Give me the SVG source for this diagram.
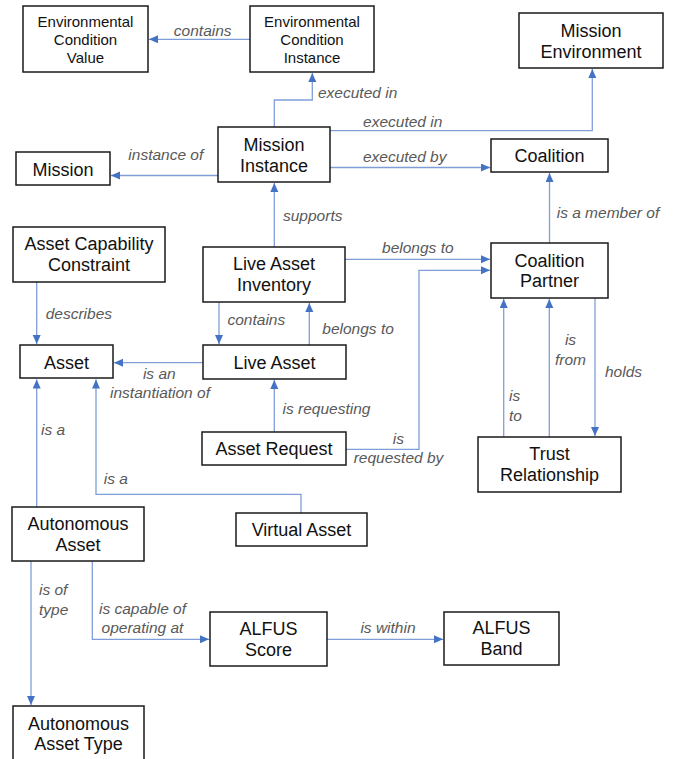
<svg xmlns="http://www.w3.org/2000/svg" width="686" height="759" viewBox="0 0 686 759">
<defs>
<style>
.box{fill:#fff;stroke:#1a1a1a;stroke-width:1.5}
.nt{font-family:"Liberation Sans",Arial,sans-serif;font-size:18px;fill:#111;text-anchor:middle}
.ns{font-size:15px}
.lk{fill:none;stroke:#7f9ed8;stroke-width:1.3}
.lb{font-family:"Liberation Sans",Arial,sans-serif;font-size:15.5px;font-style:italic;fill:#595959}
.m{text-anchor:middle}
</style>
<marker id="ah" markerUnits="userSpaceOnUse" markerWidth="10" markerHeight="9" refX="9" refY="4" orient="auto">
<path d="M0,0 L9,4 L0,8 Z" fill="#4472c4"/>
</marker>
</defs>
<rect width="686" height="759" fill="#fff"/>

<g id="connectors">
<path class="lk" d="M250,39.3 H149" marker-end="url(#ah)"/>
<path class="lk" d="M274.3,127 V100 H312.3 V73" marker-end="url(#ah)"/>
<path class="lk" d="M330,130.7 H592.3 V69" marker-end="url(#ah)"/>
<path class="lk" d="M330,167.5 H490" marker-end="url(#ah)"/>
<path class="lk" d="M218,175.5 H111" marker-end="url(#ah)"/>
<path class="lk" d="M274.3,247 V183" marker-end="url(#ah)"/>
<path class="lk" d="M549.5,243 V173" marker-end="url(#ah)"/>
<path class="lk" d="M345,259.3 H490" marker-end="url(#ah)"/>
<path class="lk" d="M346,449.3 H419 V270.3 H490" marker-end="url(#ah)"/>
<path class="lk" d="M503.7,437 V299" marker-end="url(#ah)"/>
<path class="lk" d="M549.3,437 V299" marker-end="url(#ah)"/>
<path class="lk" d="M595,298 V436" marker-end="url(#ah)"/>
<path class="lk" d="M219,302 V344" marker-end="url(#ah)"/>
<path class="lk" d="M309.3,345 V303" marker-end="url(#ah)"/>
<path class="lk" d="M36.7,282 V344" marker-end="url(#ah)"/>
<path class="lk" d="M203,362.7 H114" marker-end="url(#ah)"/>
<path class="lk" d="M274.3,432 V380" marker-end="url(#ah)"/>
<path class="lk" d="M36.7,507 V379.5" marker-end="url(#ah)"/>
<path class="lk" d="M301,513 V494.3 H96 V379.5" marker-end="url(#ah)"/>
<path class="lk" d="M31,561 V705" marker-end="url(#ah)"/>
<path class="lk" d="M92.3,561 V639.3 H209" marker-end="url(#ah)"/>
<path class="lk" d="M327,639.3 H443" marker-end="url(#ah)"/>

<text class="lb m" x="202.7" y="36.3">contains</text>
<text class="lb" x="318" y="97.5">executed in</text>
<text class="lb m" x="402.7" y="127">executed in</text>
<text class="lb m" x="404.7" y="162">executed by</text>
<text class="lb m" x="165.8" y="160.3">instance of</text>
<text class="lb" x="283" y="221.3">supports</text>
<text class="lb" x="556.7" y="218">is a member of</text>
<text class="lb m" x="417.8" y="253">belongs to</text>
<text class="lb m" x="398.3" y="443.6">is</text>
<text class="lb m" x="398.5" y="463">requested by</text>
<text class="lb" x="509" y="401.3">is</text>
<text class="lb" x="509" y="421.3">to</text>
<text class="lb m" x="570.5" y="345.3">is</text>
<text class="lb m" x="570.5" y="364.6">from</text>
<text class="lb" x="605" y="377">holds</text>
<text class="lb" x="227.5" y="324.6">contains</text>
<text class="lb" x="322.3" y="333.6">belongs to</text>
<text class="lb" x="45.7" y="319.3">describes</text>
<text class="lb m" x="159.3" y="378.6">is an</text>
<text class="lb m" x="160" y="397.6">instantiation of</text>
<text class="lb" x="282.5" y="414.3">is requesting</text>
<text class="lb" x="41" y="434.6">is a</text>
<text class="lb" x="103.7" y="484">is a</text>
<text class="lb" x="39" y="594.6">is of</text>
<text class="lb" x="39" y="614.6">type</text>
<text class="lb m" x="142.5" y="614">is capable of</text>
<text class="lb m" x="142.5" y="633">operating at</text>
<text class="lb m" x="388" y="633">is within</text>
</g>

<g id="ecv"><rect class="box" x="23" y="6" width="125" height="66"/>
<text class="nt ns" x="85.5" y="27">Environmental</text><text class="nt ns" x="85.5" y="44.5">Condition</text><text class="nt ns" x="85.5" y="62.5">Value</text></g>
<g id="eci"><rect class="box" x="250" y="6" width="124" height="66"/>
<text class="nt ns" x="312" y="27">Environmental</text><text class="nt ns" x="312" y="45">Condition</text><text class="nt ns" x="312" y="63">Instance</text></g>
<g id="me"><rect class="box" x="519" y="13" width="144" height="55"/>
<text class="nt" x="591" y="37">Mission</text><text class="nt" x="591" y="58">Environment</text></g>
<g id="mi"><rect class="box" x="218" y="127" width="112" height="55"/>
<text class="nt" x="274" y="150.5">Mission</text><text class="nt" x="274" y="171.5">Instance</text></g>
<g id="mission"><rect class="box" x="16" y="152" width="94" height="33"/>
<text class="nt" x="63" y="176">Mission</text></g>
<g id="coalition"><rect class="box" x="491" y="139" width="117" height="33"/>
<text class="nt" x="549.5" y="162">Coalition</text></g>
<g id="cp"><rect class="box" x="491" y="243" width="117" height="55"/>
<text class="nt" x="549.5" y="266.5">Coalition</text><text class="nt" x="549.5" y="287">Partner</text></g>
<g id="acc"><rect class="box" x="13" y="227" width="152" height="55"/>
<text class="nt" x="89" y="249.5">Asset Capability</text><text class="nt" x="89" y="271">Constraint</text></g>
<g id="lai"><rect class="box" x="203" y="247" width="142" height="55"/>
<text class="nt" x="274" y="269.5">Live Asset</text><text class="nt" x="274" y="291">Inventory</text></g>
<g id="asset"><rect class="box" x="20" y="345" width="93" height="33"/>
<text class="nt" x="66.5" y="369">Asset</text></g>
<g id="la"><rect class="box" x="203" y="345" width="143" height="34"/>
<text class="nt" x="274.5" y="369">Live Asset</text></g>
<g id="ar"><rect class="box" x="202" y="432" width="144" height="33"/>
<text class="nt" x="274" y="455">Asset Request</text></g>
<g id="tr"><rect class="box" x="478" y="437" width="143" height="55"/>
<text class="nt" x="549.5" y="460">Trust</text><text class="nt" x="549.5" y="481">Relationship</text></g>
<g id="va"><rect class="box" x="236" y="513" width="131" height="33"/>
<text class="nt" x="301.5" y="536.3">Virtual Asset</text></g>
<g id="aa"><rect class="box" x="12" y="507" width="132" height="54"/>
<text class="nt" x="78" y="529.5">Autonomous</text><text class="nt" x="78" y="550.5">Asset</text></g>
<g id="aat"><rect class="box" x="13" y="706" width="131" height="60"/>
<text class="nt" x="78.5" y="729.5">Autonomous</text><text class="nt" x="78.5" y="750.3">Asset Type</text></g>
<g id="as"><rect class="box" x="210" y="612" width="117" height="54"/>
<text class="nt" x="268.5" y="634.5">ALFUS</text><text class="nt" x="268.5" y="655.5">Score</text></g>
<g id="ab"><rect class="box" x="444" y="612" width="115" height="53"/>
<text class="nt" x="501.5" y="634">ALFUS</text><text class="nt" x="501.5" y="655.3">Band</text></g>
</svg>
